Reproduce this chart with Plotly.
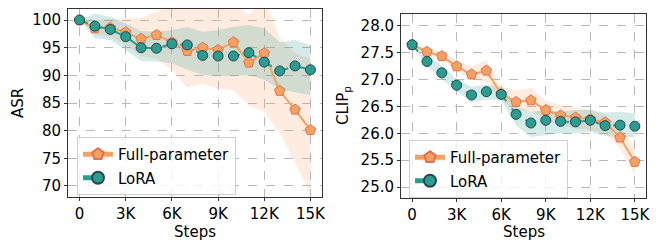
import plotly.graph_objects as go

steps = [0, 1000, 2000, 3000, 4000, 5000, 6000, 7000, 8000, 9000, 10000, 11000, 12000, 13000, 14000, 15000]
tick_vals = [0, 3000, 6000, 9000, 12000, 15000]
tick_text = ["0", "3K", "6K", "9K", "12K", "15K"]

# ASR (left)
asr_full = [100, 98.5, 98.6, 97.8, 96.6, 97.3, 96.0, 94.4, 95.0, 94.6, 96.0, 92.3, 94.0, 87.2, 83.8, 80.1]
asr_full_hi = [100, 100.0, 100.2, 100.3, 100.4, 101.5, 103, 103, 103, 103, 103, 101, 104, 96.8, 94.0, 93.0]
asr_full_lo = [100, 97.5, 97.0, 95.5, 93.5, 93.0, 91.0, 87.8, 88.5, 87.6, 87.3, 84.5, 83.4, 79.6, 74.3, 68.5]
asr_lora = [100, 98.9, 98.3, 97.0, 95.0, 94.9, 95.7, 95.5, 93.6, 93.5, 93.5, 94.1, 92.4, 90.8, 91.7, 91.0]
asr_lora_hi = [100, 101.2, 100.6, 99.4, 98.0, 97.9, 98.2, 98.8, 97.9, 98.2, 98.8, 99.1, 98.5, 96.0, 96.4, 95.5]
asr_lora_lo = [100, 96.7, 96.4, 94.6, 92.6, 92.5, 92.2, 91.0, 90.1, 89.9, 89.9, 90.1, 89.2, 87.5, 87.0, 86.4]

# CLIP_p (right)
clip_full = [27.64, 27.51, 27.43, 27.24, 27.09, 27.16, 26.73, 26.58, 26.61, 26.43, 26.33, 26.29, 26.26, 26.20, 25.92, 25.47]
clip_full_hi = [27.64, 27.57, 27.51, 27.36, 27.23, 27.36, 26.86, 26.80, 26.84, 26.61, 26.52, 26.49, 26.43, 26.34, 26.10, 25.76]
clip_full_lo = [27.64, 27.46, 27.37, 27.15, 27.00, 26.95, 26.60, 26.43, 26.40, 26.24, 26.15, 26.09, 26.06, 26.00, 25.72, 25.22]
clip_lora = [27.64, 27.33, 27.12, 26.89, 26.71, 26.77, 26.72, 26.35, 26.19, 26.24, 26.22, 26.21, 26.24, 26.14, 26.15, 26.13]
clip_lora_hi = [27.64, 27.45, 27.25, 27.00, 26.86, 26.90, 26.85, 26.49, 26.40, 26.43, 26.40, 26.43, 26.43, 26.38, 26.40, 26.37]
clip_lora_lo = [27.64, 27.24, 27.00, 26.78, 26.58, 26.62, 26.62, 26.15, 25.93, 25.96, 26.00, 26.00, 26.03, 25.95, 25.93, 25.93]

ORANGE = "#F4A261"
ORANGE_EDGE = "#E76F51"
TEAL = "#2A9D8F"
TEAL_EDGE = "#264653"
FONT = "DejaVu Sans"
FS = 15

fig = go.Figure()


def band(x, lo, hi, color, xa, ya):
    fig.add_trace(go.Scatter(
        x=list(x) + list(x)[::-1], y=list(hi) + list(lo)[::-1],
        fill="toself", fillcolor=color, line=dict(width=0),
        mode="lines", hoverinfo="skip", showlegend=False, xaxis=xa, yaxis=ya))


def series(x, y, name, xa, ya, legend, kind):
    if kind == "full":
        fig.add_trace(go.Scatter(
            x=x, y=y, name=name, mode="lines+markers",
            line=dict(color=ORANGE, width=2),
            marker=dict(symbol="pentagon", size=11, color=ORANGE,
                        line=dict(color=ORANGE_EDGE, width=1)),
            xaxis=xa, yaxis=ya, legend=legend, legendgroup="a" + legend))
    else:
        fig.add_trace(go.Scatter(
            x=x, y=y, name=name, mode="lines+markers",
            line=dict(color=TEAL, width=2, dash="dash"),
            marker=dict(symbol="circle", size=10, color=TEAL,
                        line=dict(color=TEAL_EDGE, width=1)),
            xaxis=xa, yaxis=ya, legend=legend, legendgroup="b" + legend))


band(steps, asr_full_lo, asr_full_hi, "rgba(244,162,97,0.2)", "x", "y")
band(steps, asr_lora_lo, asr_lora_hi, "rgba(42,157,143,0.2)", "x", "y")
series(steps, asr_full, "Full-parameter", "x", "y", "legend", "full")
series(steps, asr_lora, "LoRA", "x", "y", "legend", "lora")

band(steps, clip_full_lo, clip_full_hi, "rgba(244,162,97,0.2)", "x2", "y2")
band(steps, clip_lora_lo, clip_lora_hi, "rgba(42,157,143,0.2)", "x2", "y2")
series(steps, clip_full, "Full-parameter", "x2", "y2", "legend2", "full")
series(steps, clip_lora, "LoRA", "x2", "y2", "legend2", "lora")

W, H = 665, 240
axis_common = dict(
    showgrid=True, gridcolor="#b8b8b8", griddash="dash", gridwidth=1,
    showline=True, linecolor="#333333", linewidth=1, mirror=True,
    ticks="outside", ticklen=3, tickwidth=1, tickcolor="#333333",
    tickfont=dict(family=FONT, size=FS, color="black"),
    zeroline=False, automargin=False,
)

legend_common = dict(
    bgcolor="rgba(255,255,255,0.8)", bordercolor="#d0d0d0", borderwidth=1,
    font=dict(family=FONT, size=FS, color="black"),
    xanchor="left", yanchor="top", tracegroupgap=1, itemsizing="constant",
)

fig.update_layout(
    width=W, height=H,
    margin=dict(l=0, r=0, t=0, b=0),
    paper_bgcolor="white", plot_bgcolor="white",
    font=dict(family=FONT, size=FS, color="black"),
    xaxis=dict(domain=[68 / W, 322 / W], range=[-750, 15750],
               tickvals=tick_vals, ticktext=tick_text, anchor="y", **axis_common),
    yaxis=dict(domain=[1 - 197 / H, 1 - 9 / H], range=[68.0, 102.0],
               tickvals=[70, 75, 80, 85, 90, 95, 100], anchor="x", **axis_common),
    xaxis2=dict(domain=[401 / W, 646 / W], range=[-750, 15750],
                tickvals=tick_vals, ticktext=tick_text, anchor="y2", **axis_common),
    yaxis2=dict(domain=[1 - 198 / H, 1 - 14 / H], range=[24.80, 28.21],
                tickvals=[25.0, 25.5, 26.0, 26.5, 27.0, 27.5, 28.0],
                ticktext=["25.0", "25.5", "26.0", "26.5", "27.0", "27.5", "28.0"],
                anchor="x2", **axis_common),
    legend=dict(x=77 / W, y=1 - 137 / H, **legend_common),
    legend2=dict(x=409 / W, y=1 - 140 / H, **legend_common),
    showlegend=True,
)

ann_font = dict(family=FONT, size=FS, color="black")
fig.add_annotation(text="ASR", x=18 / W, y=1 - 103 / H, xref="paper", yref="paper",
                   textangle=-90, showarrow=False, font=ann_font, xanchor="center", yanchor="middle")
fig.add_annotation(text="CLIP<sub>p</sub>", x=343 / W, y=1 - 106 / H, xref="paper", yref="paper",
                   textangle=-90, showarrow=False, font=ann_font, xanchor="center", yanchor="middle")
fig.add_annotation(text="Steps", x=195 / W, y=1 - 232 / H, xref="paper", yref="paper",
                   showarrow=False, font=ann_font, xanchor="center", yanchor="middle")
fig.add_annotation(text="Steps", x=524 / W, y=1 - 232 / H, xref="paper", yref="paper",
                   showarrow=False, font=ann_font, xanchor="center", yanchor="middle")

fig.write_html("out.html", config={"displayModeBar": False},
               post_script="document.body.style.margin='0';document.body.style.overflow='hidden';")
